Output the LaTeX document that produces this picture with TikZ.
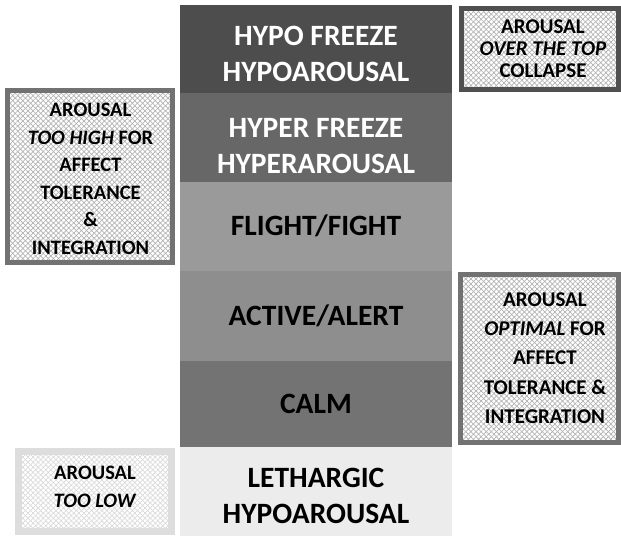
\documentclass[tikz,border=0pt]{standalone}
\usepackage{fontspec}
\setmainfont{Carlito}
\usetikzlibrary{patterns.meta}

\definecolor{hypofreeze}{HTML}{4D4D4D}
\definecolor{hyperfreeze}{HTML}{676767}
\definecolor{flightfight}{HTML}{9A9A9A}
\definecolor{activealert}{HTML}{8E8E8E}
\definecolor{calmband}{HTML}{737373}
\definecolor{lethargic}{HTML}{ECECEC}
\definecolor{frameA}{HTML}{727272}
\definecolor{frameB}{HTML}{505050}
\definecolor{frameC}{HTML}{DDDDDD}

\begin{document}
\begin{tikzpicture}[x=1pt,y=-1pt,
    band/.style={inner sep=0pt,align=center,font=\bfseries\fontsize{29.5}{36.5}\selectfont},
    note/.style={inner sep=0pt,align=center,font=\bfseries\fontsize{20.5}{27.5}\selectfont},
    hatched/.style={preaction={pattern={Lines[angle=45,distance=3.6pt,line width=0.7pt]},pattern color=#1},
        pattern={Lines[angle=-45,distance=3.6pt,line width=0.7pt]},pattern color=#1}]

    \useasboundingbox (0,0) rectangle (621,536);

    % Arousal bands %
    \begin{scope}
        \fill[hypofreeze] (180,5) rectangle (452,93);
        \fill[hyperfreeze] (180,93) rectangle (452,182);
        \fill[flightfight] (180,182) rectangle (452,271);
        \fill[activealert] (180,271) rectangle (452,361);
        \fill[calmband] (180,361) rectangle (452,447);
        \fill[lethargic] (180,447) rectangle (452,536);
    \end{scope}

    \begin{scope}[every node/.style={band}]
        \node[text=white] (hypo) at (316,54) {HYPO FREEZE\\HYPOAROUSAL};
        \node[text=white] (hyper) at (316,146) {HYPER FREEZE\\HYPERAROUSAL};
        \node (flight) at (316,226) {FLIGHT/FIGHT};
        \node (active) at (316,316) {ACTIVE/ALERT};
        \node (calm) at (316,404) {CALM};
        \node (lethargy) at (316,496) {LETHARGIC\\HYPOAROUSAL};
    \end{scope}

    % Side boxes %
    \draw[hatched=gray!60, draw=frameA, line width=5pt] (7.5,90.5) rectangle (172.5,262.5);
    \draw[hatched=gray!60, draw=frameB, line width=5pt] (461.5,8.5) rectangle (618.5,89.5);
    \draw[hatched=gray!60, draw=frameA, line width=5pt] (460.5,274.5) rectangle (618.5,442.5);
    \draw[hatched=gray!30, draw=frameC, line width=7pt] (18.5,451.5) rectangle (171.5,531.5);

    \node[note] (toohigh) at (90.5,179) {AROUSAL\\\textit{TOO HIGH} FOR\\AFFECT\\TOLERANCE\\\&\\INTEGRATION};
    \node[note, font=\bfseries\fontsize{21}{21.7}\selectfont] (overtop) at (543,48.5) {AROUSAL\\\textit{OVER THE TOP}\\COLLAPSE};
    \node[note, font=\bfseries\fontsize{21}{29.4}\selectfont] (optimal) at (545,358) {AROUSAL\\\textit{OPTIMAL} FOR\\AFFECT\\TOLERANCE \&\\INTEGRATION};
    \node[note] (toolow) at (95,487) {AROUSAL\\\textit{TOO LOW}};

\end{tikzpicture}
\end{document}
